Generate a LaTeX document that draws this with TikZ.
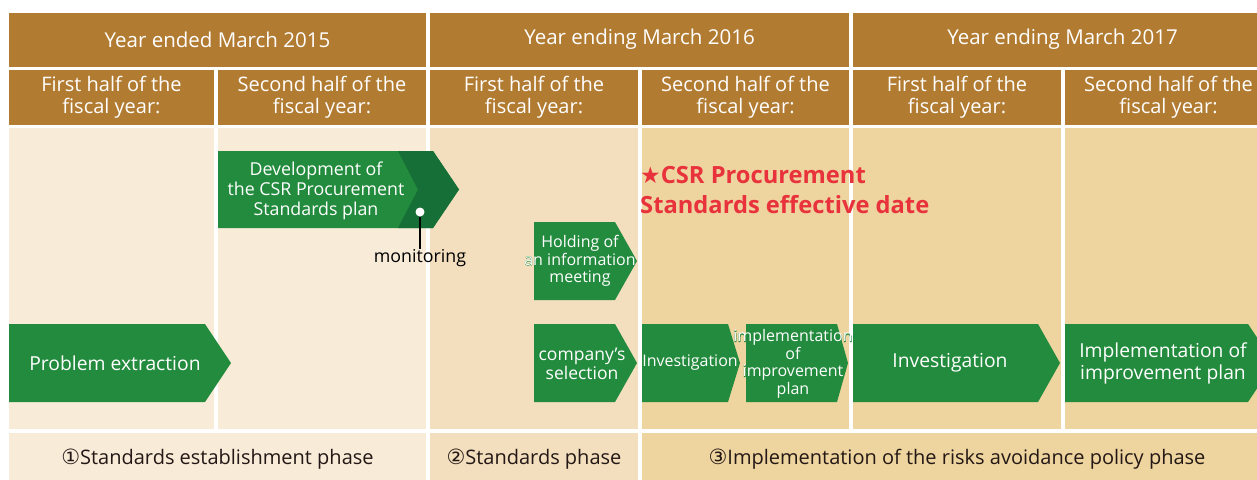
\documentclass[tikz,border=0pt]{standalone}
\usepackage{fontspec}
\setmainfont{Open Sans}
\newfontfamily\symfont{DejaVu Sans}
\definecolor{hdr}{HTML}{B27B32}
\definecolor{bgA}{HTML}{F8ECD9}
\definecolor{bgB}{HTML}{F3DEBE}
\definecolor{bgC}{HTML}{EED49F}
\definecolor{grn}{HTML}{238B3D}
\definecolor{dgrn}{HTML}{176F38}
\definecolor{redt}{HTML}{E8323C}
\definecolor{txt}{HTML}{231815}
\newcommand\chevshape[6]{% left, top, rect end, tip, bottom, colour
  \fill[#6] (#1,#2) -- (#3,#2) -- (#4,{(#2+#5)/2}) -- (#3,#5) -- (#1,#5) -- cycle;}
\newcommand\halo[1]{\ooalign{\hfil{\color{grn}\addfontfeature{FakeBold=3}#1}\hfil\cr\hfil#1\hfil\cr}}
\begin{document}
\begin{tikzpicture}[x=1pt,y=-1pt,
  hdrbox/.style={fill=hdr,inner sep=0,text=white,font=\fontsize{20.5}{22}\selectfont,align=center},
  subbox/.style={fill=hdr,inner sep=0,text=white,font=\fontsize{20}{22}\selectfont,align=center,minimum height=55},
  bodycol/.style={inner sep=0,minimum height=301},
  phase/.style={inner sep=0,minimum height=52,text=txt,font=\fontsize{20}{22}\selectfont},
  arrtext/.style={inner sep=0,text=white,align=center},
  big/.style={font=\fontsize{19.3}{22}\selectfont},
  small/.style={font=\fontsize{16}{17.5}\selectfont}]
\useasboundingbox (0,0) rectangle (1257,479);
\clip (0,0) rectangle (1257,479);
\fill[white] (0,0) rectangle (1257,479);
% year headers
\node[hdrbox,minimum width=417,minimum height=54] (y15) at (217.5,39.5) {Year ended March 2015};
\node[hdrbox,minimum width=419,minimum height=54] (y16) at (639.5,39.5) {Year ending March 2016};
\node[hdrbox,minimum width=419,minimum height=54] (y17) at (1062.5,39.5) {Year ending March 2017};
% half-year headers
\node[subbox,minimum width=205] (h1) at (111.5,97.5) {First half of the\\fiscal year:};
\node[subbox,minimum width=208] (h2) at (322,97.5) {Second half of the\\fiscal year:};
\node[subbox,minimum width=208] (h3) at (534,97.5) {First half of the\\fiscal year:};
\node[subbox,minimum width=207] (h4) at (745.5,97.5) {Second half of the\\fiscal year:};
\node[subbox,minimum width=208] (h5) at (957,97.5) {First half of the\\fiscal year:};
\node[subbox,minimum width=207] (h6) at (1168.5,97.5) {Second half of the\\fiscal year:};
% body columns
\node[bodycol,fill=bgA,minimum width=205] (c1) at (111.5,278.5) {};
\node[bodycol,fill=bgA,minimum width=208] (c2) at (322,278.5) {};
\node[bodycol,fill=bgB,minimum width=208] (c3) at (534,278.5) {};
\node[bodycol,fill=bgC,minimum width=207] (c4) at (745.5,278.5) {};
\node[bodycol,fill=bgC,minimum width=208] (c5) at (957,278.5) {};
\node[bodycol,fill=bgC,minimum width=207] (c6) at (1168.5,278.5) {};
% phase row
\node[phase,fill=bgA,minimum width=417] (p1) at (217.5,459) {{\symfont\fontsize{21}{22}\selectfont ①}Standards establishment phase};
\node[phase,fill=bgB,minimum width=208] (p2) at (534,459) {{\symfont\fontsize{21}{22}\selectfont ②}Standards phase};
\node[phase,fill=bgC,minimum width=630] (p3) at (957,459) {{\symfont\fontsize{21}{22}\selectfont ③}Implementation of the risks avoidance policy phase};
% arrows
\chevshape{9}{324}{205}{231}{402}{grn}
\chevshape{218}{151}{433}{459}{228}{grn}
\fill[dgrn] (398,151) -- (433,151) -- (459,189.5) -- (433,228) -- (398,228) -- (418,189.5) -- cycle;
\chevshape{534}{222}{615}{637}{300}{grn}
\chevshape{534}{324}{615}{637}{402}{grn}
\chevshape{642}{324}{728}{740}{402}{grn}
\chevshape{746}{324}{837}{848}{402}{grn}
\chevshape{853}{324}{1038}{1060}{402}{grn}
\chevshape{1065}{324}{1248}{1274}{402}{grn}
% arrow texts
\node[arrtext,big] (prob) at (115,363) {Problem extraction};
\node[arrtext,font=\fontsize{17.8}{20}\selectfont] (dev) at (316,191) {Development of\\the CSR Procurement\\Standards plan};
\node[arrtext,small] (hold) at (580,261) {Holding of\\\halo{an information}\\meeting};
\node[arrtext,font=\fontsize{17.5}{19}\selectfont] (comp) at (582,364) {company's\\selection};
\node[arrtext,small] (inv1) at (690,363) {Investigation};
\node[arrtext,small] (impl1) at (793,364) {\halo{implementation}\\of\\\halo{improvement}\\plan};
\node[arrtext,big] (inv2) at (950,363) {Investigation};
\node[arrtext,big] (impl2) at (1163,363) {Implementation of\\improvement plan};
% monitoring
\node[circle,fill=white,inner sep=0,minimum size=9] (dot) at (420,212) {};
\node[inner sep=0,text=black,font=\fontsize{17.8}{19}\selectfont] (mon) at (420,258) {monitoring};
\draw[black,line width=2] (dot.south) -- (mon.north);
% effective date
\node[inner sep=0,anchor=west,text=redt,align=left,font=\bfseries\fontsize{23.7}{30}\selectfont] (eff) at (640,190) {{\symfont\fontsize{23}{30}\selectfont ★}CSR Procurement\\Standards effective date};
\end{tikzpicture}
\end{document}
